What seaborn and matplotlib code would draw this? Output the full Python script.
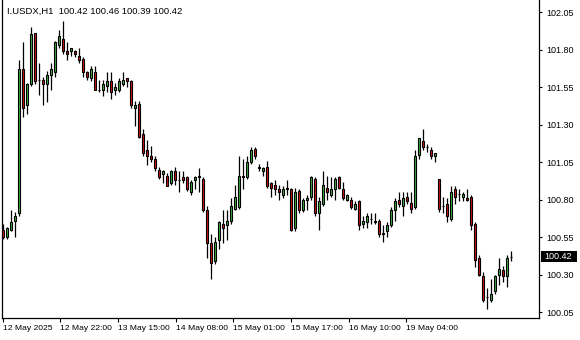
import numpy as np
import pandas as pd
import seaborn as sns
import matplotlib
matplotlib.use("Agg")
import matplotlib.pyplot as plt
from matplotlib.patches import Rectangle
import matplotlib.transforms as mtransforms

# ---------------- data ----------------
symbol_title = "I.USDX,H1  100.42 100.46 100.39 100.42"

open_ = [100.60, 100.55, 100.60, 100.66, 100.71, 101.67, 101.43, 101.57, 101.91, 101.60,
         101.60, 101.57, 101.63, 101.65, 101.83, 101.87, 101.79, 101.79, 101.79, 101.76,
         101.74, 101.65, 101.61, 101.65, 101.53, 101.53, 101.56, 101.59, 101.53, 101.53,
         101.57, 101.61, 101.59, 101.41, 101.44, 101.24, 101.13, 101.09, 101.07, 101.00,
         100.97, 100.96, 100.91, 100.99, 100.93, 100.95, 100.95, 100.85, 100.93, 100.96,
         100.94, 100.73, 100.51, 100.39, 100.53, 100.64, 100.63, 100.66, 100.74, 100.75,
         100.96, 100.95, 101.05, 101.14, 101.02, 100.99, 101.02, 100.91, 100.90, 100.87,
         100.83, 100.88, 100.87, 100.61, 100.86, 100.73, 100.80, 100.82, 100.94, 100.71,
         100.77, 100.88, 100.83, 100.87, 100.95, 100.87, 100.80, 100.80, 100.74, 100.79,
         100.64, 100.65, 100.67, 100.66, 100.66, 100.58, 100.59, 100.63, 100.73, 100.80,
         100.76, 100.82, 100.78, 100.75, 101.10, 101.19, 101.15, 101.13, 101.09, 100.94,
         100.76, 100.77, 100.67, 100.87, 100.84, 100.82, 100.81, 100.82, 100.64, 100.41,
         100.29, 100.15, 100.13, 100.19, 100.30, 100.33, 100.29, 100.42]
high = [100.64, 100.62, 100.73, 100.72, 101.73, 101.85, 101.58, 101.95, 101.91, 101.71,
        101.62, 101.66, 101.71, 101.86, 101.93, 101.99, 101.85, 101.81, 101.80, 101.81,
        101.75, 101.66, 101.69, 101.69, 101.60, 101.60, 101.65, 101.65, 101.58, 101.61,
        101.65, 101.61, 101.60, 101.46, 101.46, 101.27, 101.20, 101.16, 101.09, 101.02,
        101.00, 100.98, 101.00, 101.02, 100.99, 100.99, 100.96, 100.93, 100.96, 101.01,
        100.95, 100.76, 100.57, 100.55, 100.66, 100.73, 100.73, 100.81, 100.90, 101.09,
        101.07, 101.09, 101.15, 101.15, 101.04, 101.02, 101.06, 100.92, 100.93, 100.90,
        100.89, 100.93, 100.88, 100.88, 100.87, 100.81, 100.83, 100.96, 100.95, 100.82,
        100.99, 100.96, 100.95, 100.95, 100.96, 100.92, 100.84, 100.82, 100.79, 100.80,
        100.69, 100.71, 100.71, 100.71, 100.67, 100.63, 100.65, 100.75, 100.81, 100.85,
        100.85, 100.85, 100.85, 101.13, 101.21, 101.27, 101.17, 101.15, 101.11, 100.94,
        100.82, 100.81, 100.89, 100.89, 100.87, 100.85, 100.87, 100.83, 100.65, 100.43,
        100.32, 100.21, 100.27, 100.30, 100.41, 100.36, 100.43, 100.46]
low = [100.54, 100.54, 100.59, 100.55, 100.69, 101.35, 101.37, 101.56, 101.57, 101.50,
       101.43, 101.45, 101.53, 101.62, 101.81, 101.77, 101.73, 101.76, 101.75, 101.71,
       101.62, 101.60, 101.59, 101.53, 101.52, 101.49, 101.52, 101.47, 101.50, 101.52,
       101.56, 101.55, 101.41, 101.29, 101.21, 101.09, 101.03, 101.05, 100.99, 100.94,
       100.91, 100.89, 100.90, 100.90, 100.85, 100.91, 100.86, 100.83, 100.87, 100.85,
       100.72, 100.41, 100.27, 100.37, 100.47, 100.51, 100.53, 100.64, 100.73, 100.74,
       100.87, 100.94, 101.04, 101.07, 100.99, 100.96, 100.88, 100.82, 100.83, 100.80,
       100.81, 100.83, 100.59, 100.59, 100.71, 100.72, 100.73, 100.80, 100.69, 100.60,
       100.76, 100.80, 100.82, 100.80, 100.87, 100.80, 100.79, 100.74, 100.73, 100.60,
       100.61, 100.61, 100.64, 100.64, 100.55, 100.52, 100.55, 100.62, 100.66, 100.75,
       100.69, 100.77, 100.71, 100.74, 101.07, 101.13, 101.12, 101.07, 101.05, 100.72,
       100.71, 100.65, 100.66, 100.77, 100.79, 100.79, 100.79, 100.60, 100.35, 100.29,
       100.12, 100.07, 100.12, 100.17, 100.23, 100.25, 100.22, 100.39]
close = [100.55, 100.61, 100.65, 100.69, 101.67, 101.41, 101.57, 101.90, 101.59, 101.60,
         101.57, 101.63, 101.67, 101.85, 101.89, 101.79, 101.77, 101.81, 101.77, 101.73,
         101.65, 101.62, 101.67, 101.53, 101.53, 101.57, 101.59, 101.52, 101.55, 101.59,
         101.60, 101.59, 101.43, 101.43, 101.22, 101.11, 101.09, 101.07, 101.01, 100.95,
         100.99, 100.89, 100.99, 100.93, 100.93, 100.93, 100.87, 100.92, 100.95, 100.95,
         100.73, 100.51, 100.38, 100.52, 100.65, 100.61, 100.66, 100.76, 100.82, 100.96,
         100.95, 101.05, 101.13, 101.09, 101.01, 101.01, 100.89, 100.88, 100.87, 100.85,
         100.87, 100.87, 100.60, 100.85, 100.73, 100.80, 100.81, 100.95, 100.71, 100.79,
         100.90, 100.85, 100.87, 100.94, 100.88, 100.81, 100.83, 100.75, 100.77, 100.63,
         100.66, 100.69, 100.67, 100.65, 100.57, 100.57, 100.63, 100.73, 100.79, 100.77,
         100.81, 100.79, 100.74, 101.09, 101.21, 101.15, 101.15, 101.09, 101.11, 100.74,
         100.76, 100.69, 100.85, 100.82, 100.84, 100.84, 100.80, 100.63, 100.40, 100.30,
         100.13, 100.15, 100.17, 100.29, 100.34, 100.29, 100.41, 100.42]

y_ticks = [100.05, 100.30, 100.55, 100.80, 101.05, 101.30, 101.55, 101.80, 102.05]
x_tick_labels = ["12 May 2025", "12 May 22:00", "13 May 15:00", "14 May 08:00",
                 "15 May 01:00", "15 May 17:00", "16 May 10:00", "19 May 04:00"]
last_price = 100.42

# ---------------- layout / style ----------------
W, H = 580, 340
x_tick_pos = [-0.15, 14.25, 28.7, 43.1, 57.5, 71.9, 86.35, 100.75]
BULL = "#3cb03c"
BEAR = "#cc1414"

sns.set_style("white")
plt.rcParams["font.family"] = ["Liberation Sans", "DejaVu Sans"]

df = pd.DataFrame({"open": open_, "high": high, "low": low, "close": close})
df["idx"] = np.arange(len(df))
df["bull"] = df["close"] >= df["open"]
df["bottom"] = df[["open", "close"]].min(axis=1)
df["height"] = (df["close"] - df["open"]).abs()

fig = plt.figure(figsize=(W / 100, H / 100), dpi=100)
ax = fig.add_axes([2 / W, 22 / H, 537 / W, 318 / H])

# wicks
ax.vlines(df["idx"], df["low"], df["high"], color="black", linewidth=0.9, zorder=2)
# bodies
colors = np.where(df["bull"], BULL, BEAR)
ax.bar(df["idx"], df["height"], bottom=df["bottom"], width=0.5, color=colors,
       edgecolor="black", linewidth=0.8, zorder=3)

ax.set_xlim(-0.325, 133.925)
ax.set_ylim(100.01, 102.13)

# spines
for s in ["left", "bottom", "right"]:
    ax.spines[s].set_visible(True)
    ax.spines[s].set_color("black")
    ax.spines[s].set_linewidth(0.9)
ax.spines["top"].set_visible(False)

# y axis on right
ax.yaxis.tick_right()
ax.set_yticks(y_ticks)
ax.set_yticklabels([f"{v:.2f}" for v in y_ticks])
ax.tick_params(axis="y", which="both", right=True, left=False, length=2.5,
               width=0.8, pad=2.5, labelsize=6.5, colors="black", direction="out")

# x axis
ax.set_xticks(x_tick_pos)
ax.set_xticklabels(x_tick_labels, ha="left")
ax.tick_params(axis="x", which="both", bottom=True, length=3, width=0.8, pad=2,
               labelsize=6.1, colors="black", direction="out")
for lbl in ax.get_xticklabels():
    lbl.set_horizontalalignment("left")

# title
ax.text(5 / 537, 1 - 11 / 318, symbol_title, transform=ax.transAxes, ha="left",
        va="center", fontsize=6.8, color="black")

# last price tag
trans = mtransforms.blended_transform_factory(ax.transAxes, ax.transData)
box_h = 11.4 / 150
ax.add_patch(Rectangle((1 + 1.5 / 537, last_price - box_h / 2), 36 / 537, box_h,
                       transform=trans, facecolor="black", edgecolor="none",
                       clip_on=False, zorder=5))
ax.text(1 + 19.5 / 537, last_price, f"{last_price:.2f}", transform=trans,
        ha="center", va="center", fontsize=6.5, color="white", zorder=6)

fig.savefig("out.png", dpi=100, facecolor="white")
